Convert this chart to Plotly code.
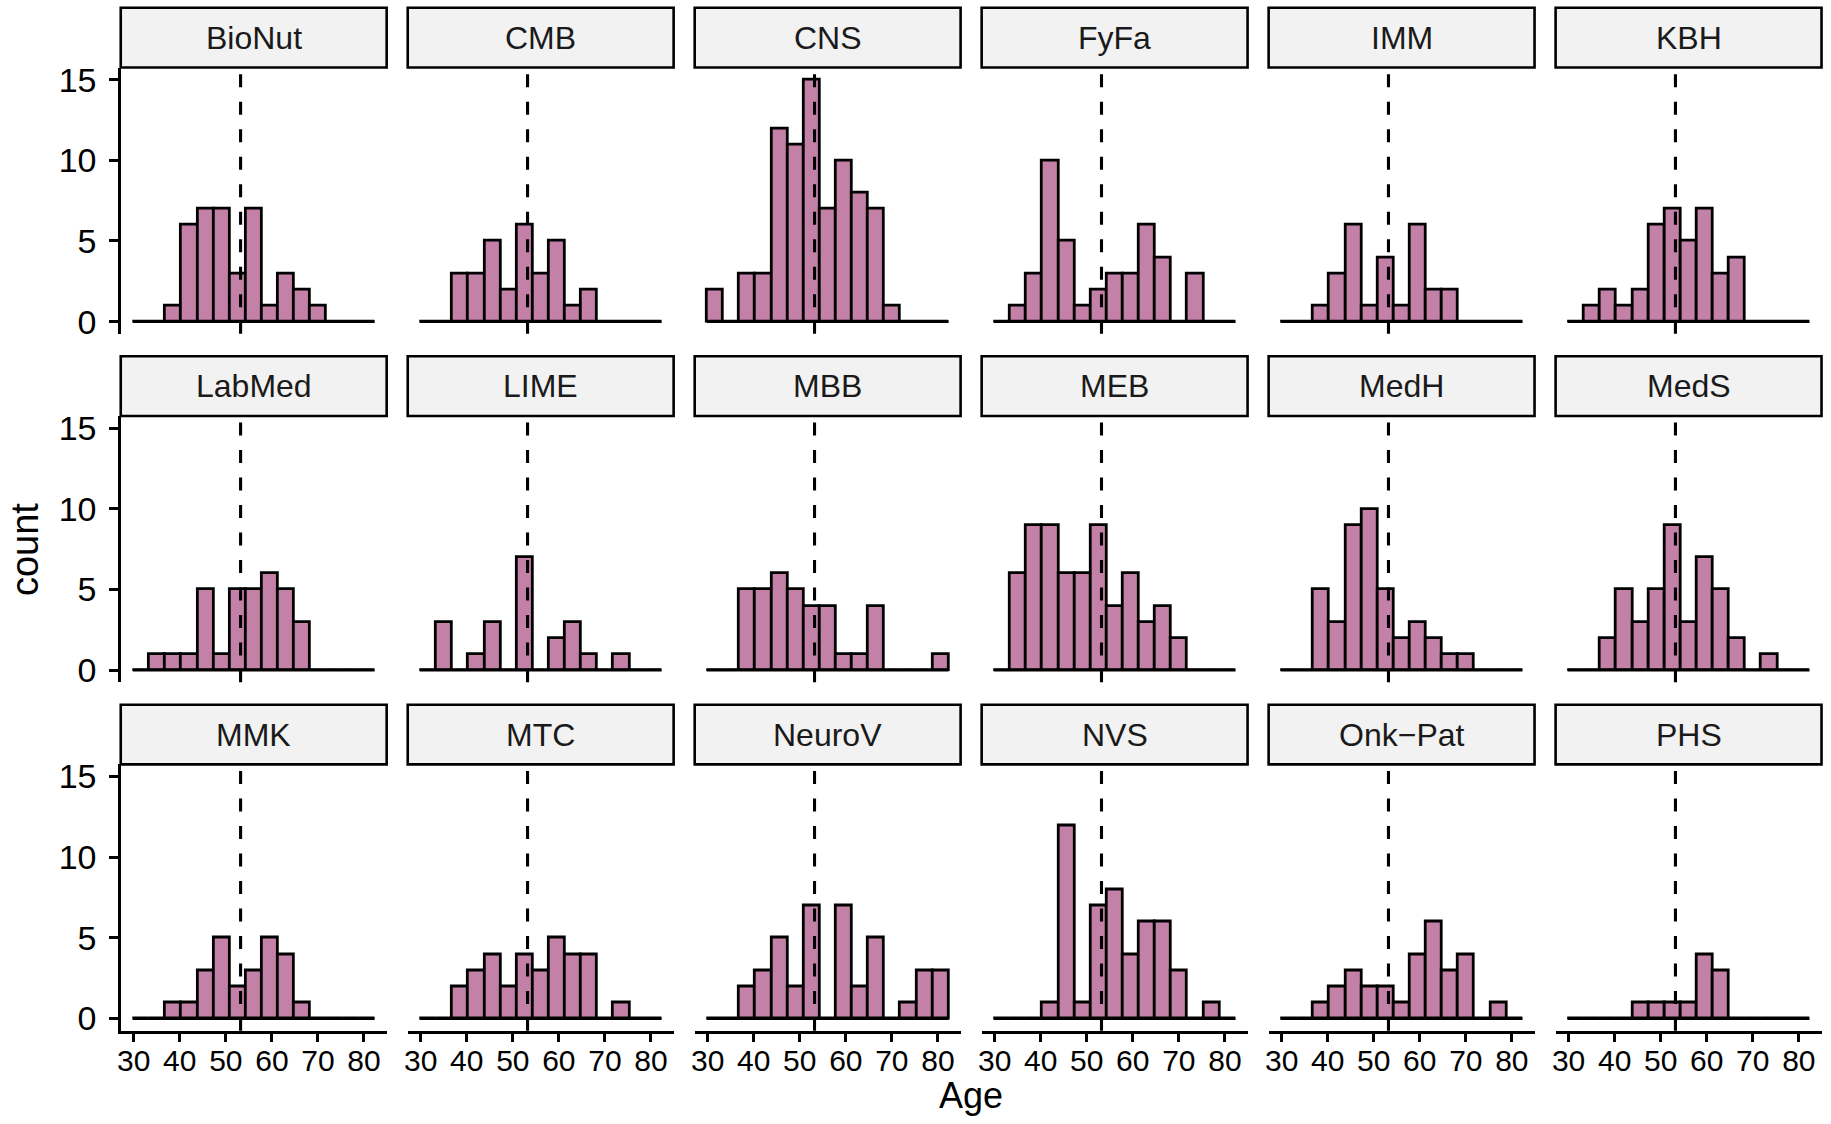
import plotly.graph_objects as go

# ---- data -------------------------------------------------------------
FACETS = ["BioNut", "CMB", "CNS", "FyFa", "IMM", "KBH",
          "LabMed", "LIME", "MBB", "MEB", "MedH", "MedS",
          "MMK", "MTC", "NeuroV", "NVS", "Onk\u2212Pat", "PHS"]

# histogram bins (15 bins of equal width)
BIN_START = 29.8
BIN_WIDTH = 3.5
N_BINS = 15

# counts per bin for each facet
bionut = [0, 0, 1, 6, 7, 7, 3, 7, 1, 3, 2, 1, 0, 0, 0]
cmb    = [0, 0, 3, 3, 5, 2, 6, 3, 5, 1, 2, 0, 0, 0, 0]
cns    = [2, 0, 3, 3, 12, 11, 15, 7, 10, 8, 7, 1, 0, 0, 0]
fyfa   = [0, 1, 3, 10, 5, 1, 2, 3, 3, 6, 4, 0, 3, 0, 0]
imm    = [0, 0, 1, 3, 6, 1, 4, 1, 6, 2, 2, 0, 0, 0, 0]
kbh    = [0, 1, 2, 1, 2, 6, 7, 5, 7, 3, 4, 0, 0, 0, 0]
labmed = [0, 1, 1, 1, 5, 1, 5, 5, 6, 5, 3, 0, 0, 0, 0]
lime   = [0, 3, 0, 1, 3, 0, 7, 0, 2, 3, 1, 0, 1, 0, 0]
mbb    = [0, 0, 5, 5, 6, 5, 4, 4, 1, 1, 4, 0, 0, 0, 1]
meb    = [0, 6, 9, 9, 6, 6, 9, 4, 6, 3, 4, 2, 0, 0, 0]
medh   = [0, 0, 5, 3, 9, 10, 5, 2, 3, 2, 1, 1, 0, 0, 0]
meds   = [0, 0, 2, 5, 3, 5, 9, 3, 7, 5, 2, 0, 1, 0, 0]
mmk    = [0, 0, 1, 1, 3, 5, 2, 3, 5, 4, 1, 0, 0, 0, 0]
mtc    = [0, 0, 2, 3, 4, 2, 4, 3, 5, 4, 4, 0, 1, 0, 0]
neurov = [0, 0, 2, 3, 5, 2, 7, 0, 7, 2, 5, 0, 1, 3, 3]
nvs    = [0, 0, 0, 1, 12, 1, 7, 8, 4, 6, 6, 3, 0, 1, 0]
onkpat = [0, 0, 1, 2, 3, 2, 2, 1, 4, 6, 3, 4, 0, 1, 0]
phs    = [0, 0, 0, 0, 1, 1, 1, 1, 4, 3, 0, 0, 0, 0, 0]

COUNTS = [bionut, cmb, cns, fyfa, imm, kbh,
          labmed, lime, mbb, meb, medh, meds,
          mmk, mtc, neurov, nvs, onkpat, phs]

MEAN_AGE = 53.2          # overall mean, drawn as dashed reference line
X_TICKS = [30, 40, 50, 60, 70, 80]
Y_TICKS = [0, 5, 10, 15]
Y_MAX = 15

# ---- styling / geometry -----------------------------------------------
W, H = 1831, 1124
FONT = "Liberation Sans"
FILL = "#C481A8"
LW = 2.8

# the html page keeps its default 8px body margin top and bottom, so the
# vertical layout is laid out in page pixels and mapped into the figure
PAGE_MARGIN = 8.0
PAGE_H = H + 2 * PAGE_MARGIN


def fig_y(page_y):
    """page pixel row -> figure pixel row"""
    return page_y * PAGE_H / H - PAGE_MARGIN


NCOL, NROW = 6, 3
LEFT0, COL_STEP, PANEL_W = 117.0, 287.6, 266.5
TOP0, ROW_STEP, STRIP_H, PANEL_H = 8.7, 347.9, 59.6, 265.8

edges = [BIN_START + BIN_WIDTH * k for k in range(N_BINS + 1)]
centers = [BIN_START + BIN_WIDTH * (k + 0.5) for k in range(N_BINS)]
span = edges[-1] - edges[0]
x_range = [edges[0] - 0.05 * span, edges[-1] + 0.05 * span]
y_range = [-0.05 * Y_MAX, Y_MAX * 1.05]

fig = go.Figure()
shapes, annotations = [], []

for i, (name, counts) in enumerate(zip(FACETS, COUNTS)):
    r, c = divmod(i, NCOL)
    n = i + 1
    xs = "x" if n == 1 else f"x{n}"
    ys = "y" if n == 1 else f"y{n}"
    xa = "xaxis" if n == 1 else f"xaxis{n}"
    ya = "yaxis" if n == 1 else f"yaxis{n}"

    left = LEFT0 + COL_STEP * c
    right = left + PANEL_W
    strip_top = fig_y(TOP0 + ROW_STEP * r)
    p_top = fig_y(TOP0 + ROW_STEP * r + STRIP_H)
    p_bot = fig_y(TOP0 + ROW_STEP * r + STRIP_H + PANEL_H)

    # baseline drawn by the empty bins
    fig.add_trace(go.Scatter(
        x=[edges[0], edges[-1]], y=[0, 0], mode="lines",
        line=dict(color="black", width=LW), xaxis=xs, yaxis=ys,
        showlegend=False, hoverinfo="skip"))
    fig.add_trace(go.Bar(
        x=centers, y=counts, width=BIN_WIDTH,
        marker=dict(color=FILL, line=dict(color="black", width=LW)),
        xaxis=xs, yaxis=ys, showlegend=False, name=name))

    bottom_row = (r == NROW - 1)
    first_col = (c == 0)

    fig.layout[xa] = dict(
        domain=[left / W, right / W], range=x_range, anchor=ys,
        showgrid=False, zeroline=False,
        showline=bottom_row, linecolor="black", linewidth=LW,
        ticks="outside" if bottom_row else "", ticklen=8.5,
        tickwidth=LW, tickcolor="black",
        tickvals=X_TICKS, showticklabels=bottom_row,
        ticklabelstandoff=-7,
        tickfont=dict(family=FONT, size=30, color="black"))
    fig.layout[ya] = dict(
        domain=[1 - p_bot / H, 1 - p_top / H], range=y_range, anchor=xs,
        showgrid=False, zeroline=False,
        showline=first_col, linecolor="black", linewidth=LW,
        ticks="outside" if first_col else "", ticklen=8.5,
        tickwidth=LW, tickcolor="black",
        tickvals=Y_TICKS, showticklabels=first_col,
        ticklabelstandoff=6,
        tickfont=dict(family=FONT, size=34, color="black"))

    # dashed mean line across the full panel height
    shapes.append(dict(
        type="line", xref=xs, yref=f"{ys} domain",
        x0=MEAN_AGE, x1=MEAN_AGE, y0=0.975, y1=0, layer="above",
        line=dict(color="black", width=3.1, dash="13px,14.5px")))

    # facet strip
    shapes.append(dict(
        type="rect", xref="paper", yref="paper",
        x0=left / W, x1=right / W,
        y0=1 - p_top / H, y1=1 - strip_top / H,
        fillcolor="#F2F2F2", line=dict(color="black", width=2.6),
        layer="above"))
    annotations.append(dict(
        text=name, xref="paper", yref="paper",
        x=(left + right) / 2 / W, y=1 - (strip_top + p_top) / 2 / H,
        xanchor="center", yanchor="middle", showarrow=False,
        font=dict(family=FONT, size=32, color="#1A1A1A")))

panels_top = fig_y(TOP0 + STRIP_H)
panels_bot = fig_y(TOP0 + ROW_STEP * (NROW - 1) + STRIP_H + PANEL_H)
panels_left = LEFT0
panels_right = LEFT0 + COL_STEP * (NCOL - 1) + PANEL_W

annotations.append(dict(
    text="count", xref="paper", yref="paper",
    x=21 / W, y=1 - (panels_top + panels_bot) / 2 / H,
    xanchor="center", yanchor="middle", textangle=-90, showarrow=False,
    font=dict(family=FONT, size=38, color="black")))
# x-axis title sits on the bottom edge of the figure
annotations.append(dict(
    text="Age", xref="paper", yref="paper",
    x=(panels_left + panels_right) / 2 / W, y=0,
    xanchor="center", yanchor="bottom", showarrow=False, borderpad=0,
    font=dict(family=FONT, size=36, color="black")))

fig.update_layout(
    width=W, height=H, margin=dict(l=0, r=0, t=0, b=0),
    paper_bgcolor="white", plot_bgcolor="white",
    barmode="overlay", bargap=0,
    shapes=shapes, annotations=annotations,
    font=dict(family=FONT))

fig.write_html("out.html")
